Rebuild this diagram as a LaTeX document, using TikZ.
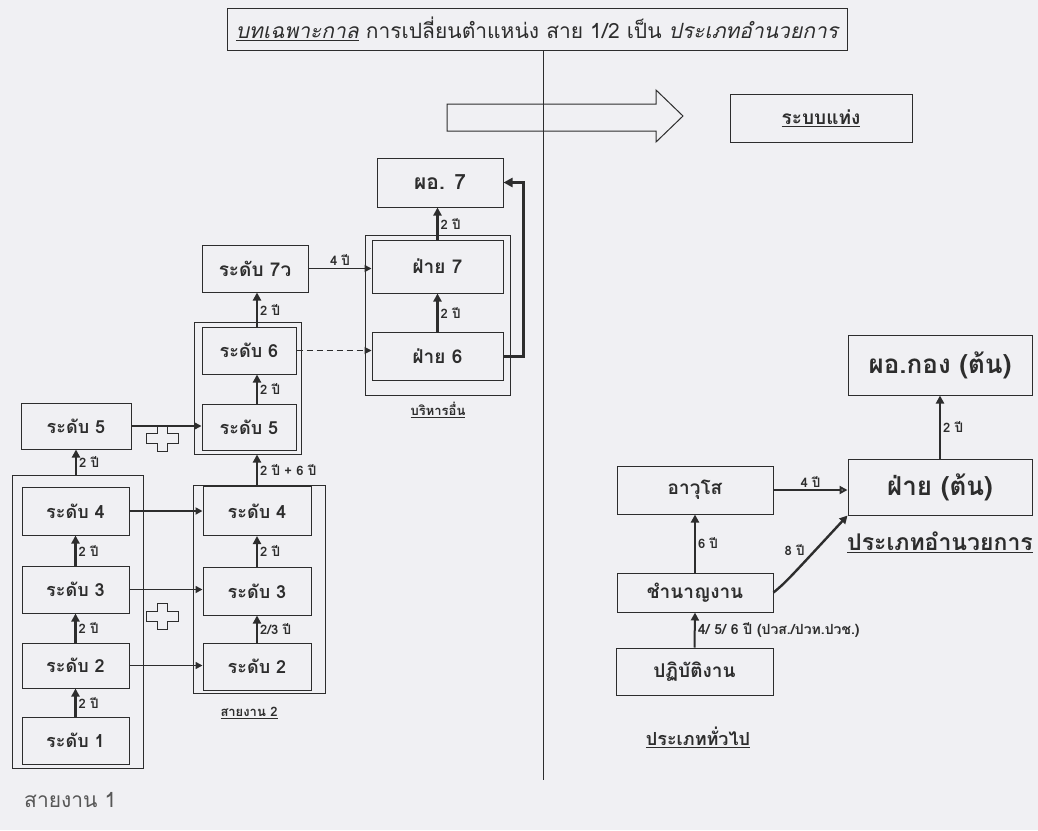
\documentclass[tikz,border=0pt]{standalone}
\usepackage{fontspec}
\setmainfont{Liberation Serif}
\newfontfamily\thai[Script=Thai]{Loma}
\usetikzlibrary{arrows.meta}
\definecolor{bg}{RGB}{240,240,243}
\definecolor{ink}{RGB}{45,45,45}
\tikzset{
  bx/.style={draw=ink, line width=1pt, inner sep=0pt, text=ink,
    font=\thai\bfseries\fontsize{18}{20}\selectfont},
  grp/.style={draw=ink, line width=1pt, inner sep=0pt},
  upar/.style={draw=ink, line width=2.4pt, -{Triangle[length=8pt,width=8pt]}},
  hzar/.style={draw=ink, line width=1.8pt, -{Triangle[length=7pt,width=7pt]}},
  lbl/.style={text=ink, inner sep=2pt, font=\thai\bfseries\fontsize{13}{14}\selectfont},
  captxt/.style={text=ink, inner sep=0pt, font=\thai\bfseries\fontsize{13}{15}\selectfont},
  plussign/.pic={\draw[ink, line width=0.9pt] (-5,-13) -- (5,-13) -- (5,-5) -- (16,-5) -- (16,5) -- (5,5) -- (5,13) -- (-5,13) -- (-5,5) -- (-16,5) -- (-16,-5) -- (-5,-5) -- cycle;}
}
\begin{document}
\begin{tikzpicture}[x=1pt,y=-1pt]
\useasboundingbox (0,0) rectangle (1038,830);
\fill[bg] (0,0) rectangle (1038,830);

% title
\node[bx, font=\thai\fontsize{21}{23}\selectfont, minimum width=620, minimum height=42] (title) at (537,29)
  {\underline{\itshape บทเฉพาะกาล} การเปลี่ยนตำแหน่ง สาย 1/2 เป็น {\itshape ประเภทอำนวยการ}};

% big arrow
\draw[ink, line width=1pt, fill=bg] (447,104) -- (656,104) -- (656,90) -- (683,116) -- (656,142) -- (656,131) -- (447,131) -- cycle;
% divider
\draw[ink, line width=1pt] (543,50) -- (543,780);

\node[bx, font=\thai\bfseries\fontsize{19}{21}\selectfont, minimum width=182, minimum height=48] (sys) at (821,118) {\underline{ระบบแท่ง}};

% group frames
\node[grp, minimum width=145, minimum height=160] (grpB) at (437.5,315) {};
\node[grp, minimum width=107, minimum height=132] (grpM) at (247.5,388) {};
\node[grp, minimum width=131, minimum height=293] (grp1) at (77.5,621.5) {};
\node[grp, minimum width=132, minimum height=208] (grp2) at (259,589) {};

% boxes
\node[bx, font=\thai\bfseries\fontsize{21}{23}\selectfont, minimum width=126, minimum height=49] (po7) at (440,182.5) {ผอ. 7};
\node[bx, font=\thai\bfseries\fontsize{19}{21}\selectfont, minimum width=131, minimum height=53] (f7) at (437.5,266.5) {ฝ่าย 7};
\node[bx, font=\thai\bfseries\fontsize{19}{21}\selectfont, minimum width=131, minimum height=48] (f6) at (437.5,356) {ฝ่าย 6};
\node[bx, font=\thai\bfseries\fontsize{19}{21}\selectfont, minimum width=106, minimum height=47] (r7) at (255,268.5) {ระดับ 7ว};
\node[bx, minimum width=94, minimum height=47] (m6) at (249,350.5) {ระดับ 6};
\node[bx, minimum width=94, minimum height=46] (m5) at (249,427) {ระดับ 5};
\node[bx, minimum width=110, minimum height=46] (l5) at (76,426) {ระดับ 5};
\node[bx, minimum width=107, minimum height=48] (a4) at (75.5,511) {ระดับ 4};
\node[bx, minimum width=107, minimum height=47] (a3) at (75.5,589.5) {ระดับ 3};
\node[bx, minimum width=107, minimum height=45] (a2) at (75.5,665.5) {ระดับ 2};
\node[bx, minimum width=107, minimum height=47] (a1) at (75.5,740.5) {ระดับ 1};
\node[bx, minimum width=108, minimum height=49] (b4) at (257,511) {ระดับ 4};
\node[bx, minimum width=108, minimum height=48] (b3) at (257,591) {ระดับ 3};
\node[bx, minimum width=108, minimum height=47] (b2) at (257,666.5) {ระดับ 2};

\node[bx, font=\thai\bfseries\fontsize{26}{28}\selectfont, minimum width=184, minimum height=60] (pok) at (940,365) {ผอ.กอง (ต้น)};
\node[bx, font=\thai\bfseries\fontsize{26}{28}\selectfont, minimum width=184, minimum height=56] (fton) at (940,487) {ฝ่าย (ต้น)};
\node[bx, font=\thai\bfseries\fontsize{19}{21}\selectfont, minimum width=156, minimum height=48] (avs) at (695,490) {อาวุโส};
\node[bx, font=\thai\bfseries\fontsize{19}{21}\selectfont, minimum width=156, minimum height=39] (cnj) at (695,592.5) {ชำนาญงาน};
\node[bx, font=\thai\bfseries\fontsize{19}{21}\selectfont, minimum width=157, minimum height=47] (pt) at (694.5,671.5) {ปฏิบัติงาน};

% captions
\node[captxt] (capB) at (438,410) {\underline{บริหารอื่น}};
\node[captxt] (cap2) at (249,713) {\underline{สายงาน 2}};
\node[captxt, font=\thai\bfseries\fontsize{18}{20}\selectfont] (capG) at (698,737) {\underline{ประเภททั่วไป}};
\node[captxt, font=\thai\bfseries\fontsize{23}{25}\selectfont] (capA) at (940,542) {\underline{ประเภทอำนวยการ}};
\node[text=ink!80, inner sep=0pt, anchor=west, font=\thai\fontsize{21}{23}\selectfont] (cap1) at (24,800) {สายงาน 1};

% plus signs
\pic at (162,438) {plussign};
\pic at (162,616) {plussign};

\coordinate (colM) at (257,0);

% vertical arrows left column
\draw[upar] (a1.north) -- (a2.south) node[lbl, midway, right] {2 ปี};
\draw[upar] (a2.north) -- (a3.south) node[lbl, midway, right] {2 ปี};
\draw[upar] (a3.north) -- (a4.south) node[lbl, midway, right] {2 ปี};
\draw[upar] (l5.south |- grp1.north) -- (l5.south) node[lbl, midway, right] {2 ปี};

% middle column
\draw[upar] (b2.north) -- (b3.south) node[lbl, midway, right] {2/3 ปี};
\draw[upar] (b3.north) -- (b4.south) node[lbl, midway, right] {2 ปี};
\draw[upar] (b4.north) -- (b4.north |- grpM.south) node[lbl, midway, right] {2 ปี + 6 ปี};
\draw[upar] (colM |- m5.north) -- (colM |- m6.south) node[lbl, midway, right] {2 ปี};
\draw[upar] (colM |- m6.north) -- (colM |- r7.south) node[lbl, midway, right] {2 ปี};

% right column of left half
\draw[upar] (f6.north) -- (f7.south) node[lbl, midway, right] {2 ปี};
\draw[upar] (f7.north) -- (f7.north |- po7.south) node[lbl, midway, right] {2 ปี};
\draw[ink, line width=3pt, -{Triangle[length=9pt,width=9pt]}] (f6.east) -- ++(20,0) |- (po7.east);

% horizontal arrows
\draw[hzar] (a4.east) -- (b4.west);
\draw[hzar, line width=1.6pt] (a3.east) -- (a3.east -| b3.west);
\draw[hzar, line width=1.5pt] (a2.east) -- (a2.east -| b2.west);
\draw[hzar, line width=1.5pt] (l5.east) -- (l5.east -| m5.west);
\draw[hzar, line width=1.6pt] (r7.east) -- (r7.east -| f7.west) node[lbl, midway, above] {4 ปี};
\draw[ink, line width=1pt, dash pattern=on 6pt off 4pt, -{Triangle[length=7pt,width=7pt]}] (m6.east) -- (m6.east -| f6.west);

% right half
\draw[upar] (fton.north) -- (pok.south) node[lbl, midway, right] {2 ปี};
\draw[ink, line width=2pt, -{Triangle[open, length=8pt,width=8pt]}] (avs.east) -- (avs.east -| fton.west) node[lbl, midway, above] {4 ปี};
\draw[upar, line width=2pt] (cnj.north) -- (cnj.north |- avs.south) node[lbl, midway, right] {6 ปี};
\draw[upar] (cnj.east) .. controls +(12,-10) .. (fton.south west);
\path (cnj.east) -- (fton.south west) node[lbl, pos=0.45, above left=0pt] {8 ปี};
\draw[upar, line width=2pt] (pt.north) -- (cnj.south) node[lbl, font=\thai\bfseries\fontsize{14}{15}\selectfont, midway, right] {4/ 5/ 6 ปี (ปวส./ปวท.ปวช.)};
\end{tikzpicture}
\end{document}
